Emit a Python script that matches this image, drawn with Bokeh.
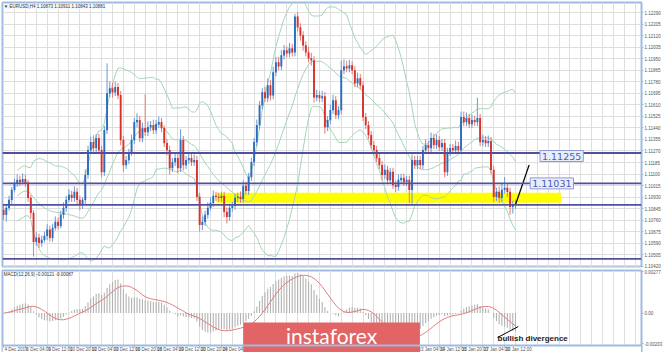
import numpy as np
import pandas as pd
from bokeh.plotting import figure
from bokeh.layouts import column
from bokeh.models import Range1d, FixedTicker, PrintfTickFormatter, Label, Span
from bokeh.embed import file_html
from bokeh.resources import INLINE
from bokeh.core.properties import value

# ---------------- data (EURUSD H4) ----------------
first_open = 1.10837
closes = [
    1.10800, 1.10851, 1.10910, 1.10984, 1.11035, 1.11057, 1.11042, 1.11064, 1.11035, 1.10925,
    1.10814, 1.10601, 1.10631, 1.10594, 1.10616, 1.10645, 1.10690, 1.10631, 1.10704, 1.10748,
    1.10719, 1.10800, 1.10851, 1.10910, 1.10947, 1.10925, 1.10969, 1.10910, 1.10873, 1.10910,
    1.11094, 1.11278, 1.11336, 1.11292, 1.11366, 1.11278, 1.11116, 1.11425, 1.11696, 1.11733,
    1.11704, 1.11741, 1.11682, 1.11351, 1.11167, 1.11204, 1.11255, 1.11351, 1.11483, 1.11498,
    1.11366, 1.11439, 1.11410, 1.11447, 1.11461, 1.11425, 1.11469, 1.11483, 1.11439, 1.11329,
    1.11278, 1.11145, 1.11189, 1.11219, 1.11145, 1.11351, 1.11167, 1.11204, 1.11219, 1.11189,
    1.11204, 1.10932, 1.10726, 1.10748, 1.10800, 1.10851, 1.10888, 1.10939, 1.10932, 1.10925,
    1.10939, 1.10822, 1.10785, 1.10851, 1.10866, 1.10925, 1.10932, 1.10917, 1.11013, 1.10976,
    1.11079, 1.11189, 1.11336, 1.11461, 1.11608, 1.11704, 1.11660, 1.11755, 1.11682, 1.11851,
    1.11924, 1.11895, 1.11976, 1.12012, 1.11990, 1.12027, 1.11998, 1.12262, 1.12182, 1.12123,
    1.12049, 1.11998, 1.11954, 1.11939, 1.11667, 1.11682, 1.11660, 1.11674, 1.11447, 1.11498,
    1.11572, 1.11645, 1.11535, 1.11572, 1.11866, 1.11895, 1.11880, 1.11902, 1.11866, 1.11770,
    1.11807, 1.11755, 1.11520, 1.11461, 1.11388, 1.11314, 1.11278, 1.11219, 1.11167, 1.11094,
    1.11131, 1.11057, 1.11116, 1.11020, 1.11006, 1.11057, 1.11072, 1.11042, 1.11057, 1.10984,
    1.11204, 1.11167, 1.11204, 1.11167, 1.11278, 1.11314, 1.11292, 1.11366, 1.11314, 1.11351,
    1.11300, 1.11329, 1.11116, 1.11263, 1.11292, 1.11278, 1.11307, 1.11278, 1.11520, 1.11483,
    1.11513, 1.11469, 1.11498, 1.11483, 1.11513, 1.11336, 1.11351, 1.11329, 1.11344, 1.11131,
    1.10932, 1.10969, 1.10925, 1.10984, 1.10998, 1.10969, 1.10859, 1.10873, 1.10881,
]
upper_wick_pips = [
    3, 2, 3, 2, 3, 4, 3, 4, 3, 2,
    2, 2, 4, 3, 3, 3, 4, 3, 3, 4,
    3, 3, 4, 3, 4, 3, 4, 3, 3, 2,
    4, 3, 4, 5, 3, 3, 3, 3, 22, 5,
    4, 4, 3, 3, 3, 3, 3, 4, 3, 5,
    3, 4, 25, 4, 3, 4, 3, 4, 3, 2,
    3, 3, 3, 4, 3, 8, 3, 3, 3, 3,
    4, 3, 3, 4, 3, 4, 4, 4, 3, 3,
    3, 3, 3, 3, 3, 3, 3, 4, 4, 3,
    3, 3, 3, 4, 3, 3, 4, 5, 4, 4,
    4, 4, 4, 4, 3, 4, 3, 2, 3, 3,
    3, 3, 4, 4, 3, 4, 3, 4, 3, 3,
    4, 4, 3, 3, 7, 5, 4, 4, 3, 3,
    4, 3, 3, 3, 3, 3, 3, 3, 3, 3,
    4, 3, 3, 3, 3, 4, 3, 3, 3, 3,
    4, 3, 3, 3, 3, 4, 3, 4, 3, 4,
    3, 3, 3, 3, 3, 3, 4, 3, 4, 4,
    4, 3, 4, 3, 15, 3, 4, 3, 4, 3,
    3, 3, 4, 5, 8, 3, 3, 3, 3,
]
lower_wick_pips = [
    4, 5, 2, 3, 2, 3, 3, 2, 3, 3,
    4, 11, 3, 4, 3, 2, 3, 3, 3, 2,
    3, 2, 3, 3, 2, 3, 3, 4, 4, 3,
    3, 3, 3, 3, 4, 3, 4, 3, 3, 3,
    4, 3, 3, 4, 5, 3, 3, 2, 3, 4,
    3, 3, 3, 3, 3, 3, 3, 3, 3, 3,
    4, 5, 3, 3, 4, 3, 4, 3, 3, 3,
    3, 3, 5, 4, 3, 3, 2, 3, 3, 3,
    3, 4, 5, 3, 3, 3, 3, 3, 3, 3,
    3, 3, 3, 3, 3, 3, 3, 3, 4, 3,
    3, 3, 3, 3, 3, 3, 3, 3, 3, 4,
    4, 3, 3, 4, 4, 3, 3, 3, 5, 3,
    3, 3, 3, 3, 3, 3, 3, 3, 3, 3,
    3, 3, 3, 3, 3, 3, 4, 3, 3, 4,
    3, 3, 3, 3, 4, 3, 3, 3, 3, 10,
    12, 3, 3, 3, 3, 3, 3, 3, 3, 3,
    3, 3, 4, 3, 3, 3, 3, 3, 3, 3,
    3, 3, 3, 3, 3, 3, 3, 3, 3, 3,
    4, 3, 4, 3, 3, 4, 6, 5, 3,
]
time_labels = [
    "4 Dec 2019", "6 Dec 04:00", "9 Dec 12:00", "10 Dec 20:00", "12 Dec 04:00",
    "13 Dec 12:00", "16 Dec 20:00", "18 Dec 04:00", "19 Dec 12:00", "20 Dec 20:00",
    "24 Dec 04:00", "26 Dec 12:00", "27 Dec 20:00", "31 Dec 04:00", "2 Jan 12:00",
    "3 Jan 20:00", "7 Jan 04:00", "8 Jan 12:00", "9 Jan 20:00", "13 Jan 04:00",
    "14 Jan 12:00", "15 Jan 20:00", "17 Jan 04:00", "20 Jan 12:00",
]
price_ticks = [
    1.10420, 1.10505, 1.10590, 1.10675, 1.10760, 1.10845, 1.10930, 1.11015,
    1.11100, 1.11185, 1.11270, 1.11355, 1.11440, 1.11525, 1.11610, 1.11695,
    1.11780, 1.11865, 1.11950, 1.12035, 1.12120, 1.12205, 1.12290,
]
level_prices = [1.11255, 1.11031, 1.10873, 1.10474]
tagged_levels = [1.11255, 1.11031]
tag_bars = [197.0, 193.4]
zone_bars = [78.1, 204.7]
zone_prices = [1.10888, 1.10961]
trend_bars = [188.0, 193.0]
trend_prices = [1.10873, 1.11167]
macd_ticks = [0.00277, 0.0, -0.00203]
note_bar = 181.4
note_macd = -0.00170
pointer_bars = [181.4, 189.0]
pointer_macd = [-0.00163, -0.00090]

n = len(closes)
idx = list(range(n))
opens = [first_open] + closes[:-1]
highs = [max(o, c) + u * 1e-4 for o, c, u in zip(opens, closes, upper_wick_pips)]
lows = [min(o, c) - l * 1e-4 for o, c, l in zip(opens, closes, lower_wick_pips)]
up = [c >= o for o, c in zip(opens, closes)]
BLUE, RED = "#2c6cc0", "#d8322c"
body_col = [BLUE if u else RED for u in up]
wick_col = ["#6a9ad6" if u else "#e47a76" for u in up]
body_top = [max(o, c) for o, c in zip(opens, closes)]
body_bot = [min(o, c) - 0.00002 for o, c in zip(opens, closes)]

s = pd.Series(closes)
mid = s.rolling(20, min_periods=6).mean()
sd = s.rolling(20, min_periods=6).std(ddof=0)
bb_up, bb_lo = mid + 2 * sd, mid - 2 * sd
macd = s.ewm(span=12, adjust=False).mean() - s.ewm(span=26, adjust=False).mean()
signal = macd.rolling(9, min_periods=1).mean()

# ---------------- layout constants ----------------
BAR_PX = 2.74
FRAME_W = 643
x0 = -0.4
XR = Range1d(x0, x0 + FRAME_W / BAR_PX)
YR = Range1d(1.10418, 1.12365)
EDGE = "#9dbbe0"
GRID = "#dedede"
SMALL = "Liberation Sans"

p = figure(width=665, height=268, x_range=XR, y_range=YR, output_backend="svg",
           toolbar_location=None, x_axis_location=None, y_axis_location="right",
           min_border_left=2, min_border_right=20, min_border_top=2, min_border_bottom=2)
p.outline_line_color = EDGE
p.outline_line_width = 2
p.xgrid.ticker = FixedTicker(ticks=list(range(0, 240, 4)))
p.grid.grid_line_color = GRID
ax = p.yaxis[0]
ax.ticker = FixedTicker(ticks=price_ticks)
ax.formatter = PrintfTickFormatter(format="%.5f")
ax.major_label_text_font_size = "4.5px"
ax.major_label_text_font = SMALL
ax.major_label_text_color = "#555555"
ax.axis_line_color = EDGE
ax.major_tick_line_color = EDGE
ax.major_tick_out = 2
ax.major_tick_in = 0
ax.minor_tick_line_color = None
ax.major_label_standoff = 1

p.quad(left=[zone_bars[0]], right=[zone_bars[1]], bottom=[zone_prices[0]], top=[zone_prices[1]],
       fill_color="#ffff00", line_color=None)
p.line(idx, list(bb_up), color="#a3d6b4", line_width=1)
p.line(idx, list(mid), color="#a3d6b4", line_width=1)
p.line(idx, list(bb_lo), color="#a3d6b4", line_width=1)
for lv in level_prices:
    p.add_layout(Span(location=lv, dimension="width", line_color="#50509e", line_width=1.8))
p.segment(x0=idx, y0=lows, x1=idx, y1=highs, color=wick_col, line_width=1)
p.vbar(x=idx, width=0.7, top=body_top, bottom=body_bot, fill_color=body_col, line_color=None)
p.line(trend_bars, trend_prices, color="black", line_width=1.2)

for lv in level_prices:
    p.add_layout(Label(x=XR.end, y=lv, x_offset=1, text=f"{lv:.5f}", text_font=SMALL,
                       text_font_size="4.5px", text_color="white", text_align="left",
                       text_baseline="middle", background_fill_color="#262c8c", padding=1))
for b, lv, dy in zip(tag_bars, tagged_levels, [-3, 0]):
    p.add_layout(Label(x=b, y=lv, y_offset=dy, text=f"{lv:.5f}", text_font="DejaVu Sans",
                       text_font_size="9.5px", text_color="#4b5cb4", text_align="left",
                       text_baseline="middle", background_fill_color="#e8edfb",
                       border_line_color="#8c9ad8", border_line_width=1, padding=2))
px_h = (YR.end - YR.start) / 265
p.add_layout(Label(x=x0 + 0.5, y=YR.end - 2 * px_h,
                   text=f"\u25bc EURUSD,H4  {opens[-1]:.5f} {highs[-1]:.5f} {lows[-1]:.5f} {closes[-1]:.5f}",
                   text_font=SMALL, text_font_size="4.5px", text_color="#333333",
                   text_baseline="top", background_fill_color="#f4f7fc"))

# ---------------- MACD panel (frame runs to the page bottom; time labels drawn inside) ----------------
MPX = 0.0000667            # MACD units per pixel
MR = Range1d(0.00284 - 82 * MPX, 0.00284)
panel_bottom = 0.00284 - 75 * MPX
label_row = 0.00284 - 78.5 * MPX
q = figure(width=665, height=84, x_range=XR, y_range=MR, output_backend="svg",
           toolbar_location=None, x_axis_location=None, y_axis_location="right",
           min_border_left=2, min_border_right=20, min_border_top=2, min_border_bottom=0)
q.outline_line_color = EDGE
q.outline_line_width = 2
q.ygrid.visible = False
q.xgrid.ticker = FixedTicker(ticks=list(range(0, 240, 4)))
q.xgrid.grid_line_color = GRID
ya = q.yaxis[0]
ya.ticker = FixedTicker(ticks=macd_ticks)
ya.major_label_overrides = {0.00277: "0.00277", 0.0: "0.00", -0.00203: "-0.00203"}
ya.major_label_text_font_size = "4.5px"
ya.major_label_text_font = SMALL
ya.major_label_text_color = "#555555"
ya.axis_line_color = EDGE
ya.major_tick_line_color = EDGE
ya.major_tick_out = 2
ya.major_tick_in = 0
ya.minor_tick_line_color = None
ya.major_label_standoff = 1

q.vbar(x=idx, width=0.4, top=list(macd), bottom=0, fill_color="#b2b2b2", line_color=None)
q.line(idx, list(signal), color="#e27c7c", line_width=1)
q.line(pointer_bars, pointer_macd, color="black", line_width=1)

# time-axis strip under the MACD panel
q.quad(left=[XR.start], right=[XR.end], bottom=[MR.start], top=[panel_bottom],
       fill_color="white", line_color=None)
q.add_layout(Span(location=panel_bottom, dimension="width", line_color=EDGE, line_width=2))
label_bars = [8 * k for k in range(len(time_labels))]
q.segment(x0=label_bars, x1=label_bars, y0=[panel_bottom] * len(label_bars),
          y1=[panel_bottom - 2 * MPX] * len(label_bars), color="#9a9a9a", line_width=1)
q.text(x=label_bars, y=[label_row] * len(label_bars), text=time_labels, x_offset=1,
       text_font=value(SMALL), text_font_size="4.5px", text_color="#555555",
       text_align="left", text_baseline="middle")

q.add_layout(Label(x=note_bar, y=note_macd, text="bullish divergence", text_font=SMALL,
                   text_font_size="8px", text_font_style="bold", text_color="#222222",
                   text_baseline="middle"))
q.add_layout(Label(x=x0 + 0.5, y=MR.end - 1.5 * MPX,
                   text=f"MACD(12,26,9) {macd.iloc[-1]:.5f} {signal.iloc[-1]:.5f}",
                   text_font=SMALL, text_font_size="4.5px", text_color="#333333", text_baseline="top"))

# instaforex watermark
wm_left, wm_right = 88.0, 152.9
q.quad(left=[wm_left], right=[wm_right], bottom=[MR.start], top=[0.00284 - 52 * MPX],
       fill_color="#e26464", line_color=None)
q.text(x=[(wm_left + wm_right) / 2], y=[0.00284 - 65 * MPX], text=["instaforex"],
       text_font=value("Lato"), text_font_size="21px", text_color="white",
       text_align="center", text_baseline="middle")

layout = column(p, q, spacing=0)
open("out.html", "w").write(file_html(layout, INLINE))
